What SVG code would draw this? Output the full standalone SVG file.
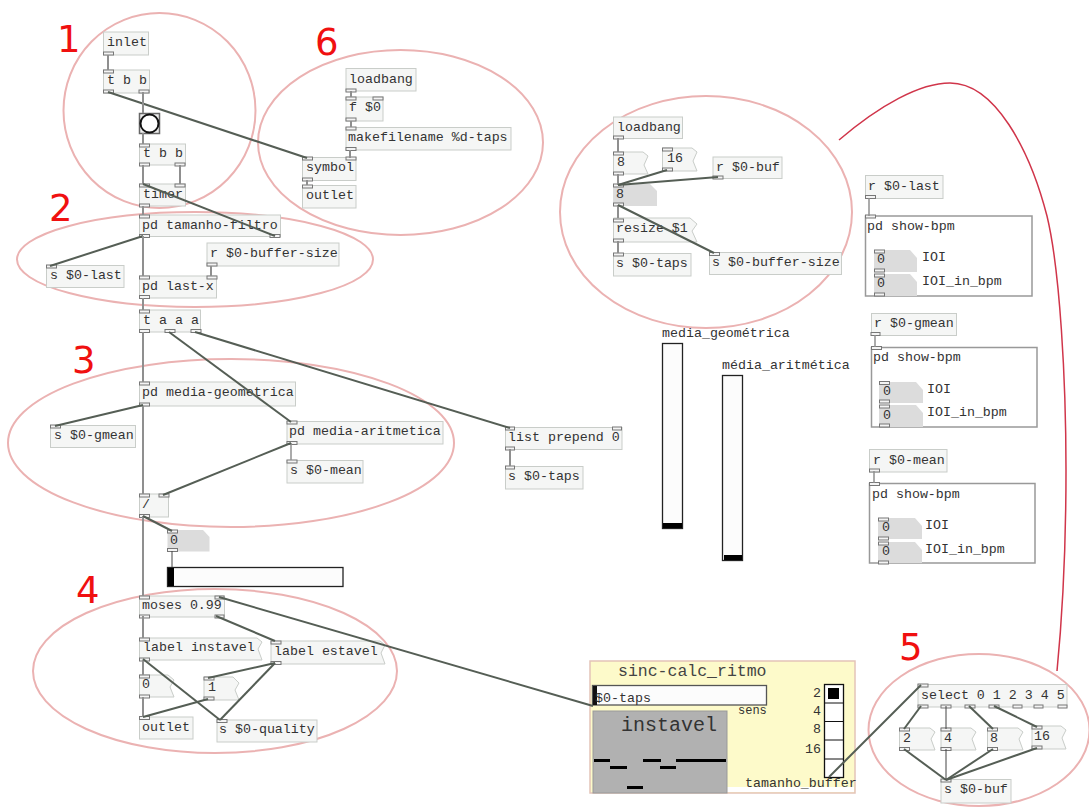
<svg xmlns="http://www.w3.org/2000/svg" width="1089" height="809" viewBox="0 0 1089 809">
<style>
text{font-family:"Liberation Mono","DejaVu Sans Mono",monospace;font-size:13.3px;fill:#333}
.big{font-family:"DejaVu Sans","Liberation Sans",sans-serif;font-size:37px;fill:#f01010}
.o{fill:#f5f6f5;stroke:#c9cdc9;stroke-width:1}
.m{fill:#f5f6f5;stroke:#c9cdc9;stroke-width:1}
.n{fill:#dcdcdc;stroke:none}
.g{fill:#fff;stroke:#999;stroke-width:1.5}
.s{fill:#fcfcfc;stroke:#222;stroke-width:1.300}
.p{fill:#f4f4f4;stroke:#777;stroke-width:1}
.e{fill:none;stroke:#ebb2b2;stroke-width:2}
.c line{stroke:#8f8f8f;stroke-width:2}
.c .d{stroke:#555e55;stroke-width:2}
.c .t{stroke:#444;stroke-width:1}
</style>
<rect width="1089" height="809" fill="#fff"/>
<g id="circles">
<ellipse class="e" cx="159.500" cy="110.500" rx="96" ry="97.500"/>
<ellipse class="e" cx="400.500" cy="142.500" rx="142.500" ry="92.500"/>
<ellipse class="e" cx="195" cy="259.500" rx="178" ry="47.500"/>
<ellipse class="e" cx="231" cy="443" rx="223" ry="84"/>
<ellipse class="e" cx="215" cy="671" rx="182" ry="82"/>
<ellipse class="e" cx="979" cy="730" rx="110.500" ry="76"/>
<ellipse class="e" cx="706" cy="212" rx="146" ry="116"/>
<path d="M839,140C880,105 920,83 950,83C995,83 1030,150 1047,216C1060,270 1066,380 1066,470C1066,560 1062,620 1057,671" fill="none" stroke="#d0354a" stroke-width="1.500"/>
</g>
<g id="numbers">
<text class="big" x="57" y="52">1</text>
<text class="big" x="315" y="55">6</text>
<text class="big" x="49" y="221">2</text>
<text class="big" x="72" y="373">3</text>
<text class="big" x="76" y="603">4</text>
<text class="big" x="899" y="660">5</text>
</g>
<g id="panel">
<rect x="590" y="661" width="265" height="132" fill="#fdfaca" stroke="#e3c4b8" stroke-width="1.500"/>
<rect x="727" y="787" width="127" height="5" fill="#fff"/>
<text x="618" y="676" style="font-size:16.500px;fill:#444">sinc-calc_ritmo</text>
<rect x="593" y="711" width="134" height="82" fill="#b1b1b1" stroke="#999"/>
<text x="621" y="731" style="font-size:20px;fill:#333">instavel</text>
<g fill="#000"><rect x="594" y="759" width="16" height="3"/><rect x="643" y="759" width="18" height="3"/><rect x="676" y="759" width="50" height="3"/><rect x="610" y="766" width="17" height="3"/><rect x="660" y="766" width="16" height="3"/><rect x="627" y="786" width="16" height="3"/></g>
<rect x="592.500" y="685.500" width="174" height="19.500" class="s" style="stroke:#555"/>
<rect x="593" y="686" width="4" height="19" fill="#111"/>
<text x="595" y="702">$0-taps</text>
<text x="738" y="714" style="font-size:12px;fill:#333">sens</text>
<rect x="824.500" y="684.500" width="19" height="93" fill="#fff" stroke="#111" stroke-width="1.300"/>
<path d="M824,703H843M824,721.500H843M824,740H843M824,759H843" stroke="#111" stroke-width="1"/>
<rect x="828" y="688" width="11" height="11" fill="#000"/>
<text x="813" y="697">2</text><text x="813" y="715">4</text><text x="813" y="733">8</text><text x="805" y="753">16</text>
<text x="745" y="787">tamanho_buffer</text>
</g>
<g id="inlet"><rect class="o" x="103.500" y="32" width="45" height="23"/><text x="107" y="46">inlet</text><rect class="p" x="103.500" y="52" width="10" height="3"/></g>
<g id="tbb1"><rect class="o" x="103.500" y="70" width="46" height="23"/><text x="107" y="84">t b b</text><rect class="p" x="103.500" y="70" width="10" height="3"/><rect class="p" x="103.500" y="90" width="10" height="3"/><rect class="p" x="139" y="90" width="10" height="3"/></g>
<g id="bang"><rect x="139.500" y="113.500" width="20" height="20" fill="#eee" stroke="#666" stroke-width="1.500"/><circle cx="149.500" cy="123.500" r="9" fill="#fff" stroke="#111" stroke-width="2"/></g>
<g id="tbb2"><rect class="o" x="139.500" y="144" width="46" height="21"/><text x="143" y="157">t b b</text><rect class="p" x="139.500" y="144" width="10" height="3"/><rect class="p" x="139.500" y="163" width="10" height="3"/><rect class="p" x="175" y="163" width="10" height="3"/></g>
<g id="timer"><rect class="o" x="139.500" y="184" width="46" height="22"/><text x="143" y="198">timer</text><rect class="p" x="139.500" y="184" width="10" height="3"/><rect class="p" x="175" y="184" width="10" height="3"/><rect class="p" x="139.500" y="204" width="10" height="3"/></g>
<g id="tamanho"><rect class="o" x="139.500" y="215" width="141" height="21.500"/><text x="142" y="229">pd tamanho-filtro</text><rect class="p" x="139.500" y="215" width="10" height="3"/><rect class="p" x="139.500" y="234.500" width="10" height="3"/><rect class="p" x="270" y="234.500" width="10" height="3"/></g>
<g id="bufsize"><rect class="o" x="207" y="243" width="132" height="23"/><text x="210" y="257">r $0-buffer-size</text><rect class="p" x="207" y="263" width="10" height="3"/></g>
<g id="last"><rect class="o" x="46.500" y="265.500" width="77.500" height="22"/><text x="50" y="279">s $0-last</text><rect class="p" x="46.500" y="265" width="10" height="3"/></g>
<g id="lastx"><rect class="o" x="139.500" y="276" width="77" height="22"/><text x="142" y="290">pd last-x</text><rect class="p" x="139.500" y="276" width="10" height="3"/><rect class="p" x="207" y="276" width="10" height="3"/><rect class="p" x="139.500" y="295.500" width="10" height="3"/></g>
<g id="taaa"><rect class="o" x="139.500" y="310" width="61" height="22"/><text x="143" y="324">t a a a</text><rect class="p" x="139.500" y="310" width="10" height="3"/><rect class="p" x="139.500" y="329.500" width="10" height="3"/><rect class="p" x="165" y="329.500" width="10" height="3"/><rect class="p" x="191" y="329.500" width="10" height="3"/></g>
<g id="geo"><rect class="o" x="139.500" y="382" width="156" height="24"/><text x="142" y="396">pd media-geometrica</text><rect class="p" x="139.500" y="382" width="10" height="3"/><rect class="p" x="139.500" y="403" width="10" height="3"/></g>
<g id="gmean"><rect class="o" x="50.500" y="425.500" width="85" height="22"/><text x="54" y="439">s $0-gmean</text><rect class="p" x="50.500" y="425" width="10" height="3"/></g>
<g id="arit"><rect class="o" x="287" y="421.500" width="156" height="22.500"/><text x="289" y="435">pd media-aritmetica</text><rect class="p" x="287" y="421" width="10" height="3"/><rect class="p" x="287" y="441.500" width="10" height="3"/></g>
<g id="mean"><rect class="o" x="287" y="460.500" width="76" height="22.500"/><text x="290" y="474">s $0-mean</text><rect class="p" x="287" y="460" width="10" height="3"/></g>
<g id="div"><rect class="o" x="139.500" y="494" width="29" height="23"/><text x="142" y="508">/</text><rect class="p" x="139.500" y="494" width="10" height="3"/><rect class="p" x="159" y="494" width="10" height="3"/><rect class="p" x="139.500" y="514.500" width="10" height="3"/></g>
<g id="num"><path class="n" d="M167.500,530H203L209.500,537V551.500H167.500Z"/><text x="170" y="544">0</text><rect class="p" x="167.500" y="530" width="10" height="3"/><rect class="p" x="167.500" y="548.500" width="10" height="3"/></g>
<g id="hsl"><rect class="s" x="167.500" y="567.500" width="175.500" height="19"/><rect x="168" y="568" width="6" height="18" fill="#000"/></g>
<g id="moses"><rect class="o" x="139.500" y="596" width="85" height="21"/><text x="142" y="609">moses 0.99</text><rect class="p" x="139.500" y="596" width="10" height="3"/><rect class="p" x="215" y="596" width="9" height="3"/><rect class="p" x="139.500" y="615" width="10" height="3"/><rect class="p" x="215" y="615" width="9" height="3"/></g>
<g id="lab1"><path class="m" d="M139.500,638H257L262,642L258,649L262,660H139.500Z"/><text x="143" y="651">label instavel</text><rect class="p" x="139.500" y="638" width="10" height="3"/><rect class="p" x="139.500" y="658" width="10" height="3"/></g>
<g id="lab2"><path class="m" d="M271,641H380L385,645L381,653L385,664H271Z"/><text x="274" y="655">label estavel</text><rect class="p" x="271" y="641" width="10" height="3"/><rect class="p" x="271" y="661.500" width="10" height="3"/></g>
<g id="m0"><path class="m" d="M139.500,675H168L174,680L170,687L174,697H139.500Z"/><text x="142" y="688">0</text><rect class="p" x="139.500" y="675" width="10" height="3"/><rect class="p" x="139.500" y="695" width="10" height="3"/></g>
<g id="m1"><path class="m" d="M204,677H233L239,683L235,690L239,700H204Z"/><text x="208" y="691">1</text><rect class="p" x="204" y="677" width="10" height="3"/><rect class="p" x="204" y="697" width="10" height="3"/></g>
<g id="out1"><rect class="o" x="139.500" y="717" width="53.500" height="22"/><text x="142" y="731">outlet</text><rect class="p" x="139.500" y="716.500" width="10" height="3"/></g>
<g id="quality"><rect class="o" x="217" y="720" width="100" height="22"/><text x="219" y="733">s $0-quality</text><rect class="p" x="217" y="719.500" width="10" height="3"/></g>
<g id="lb6"><rect class="o" x="346" y="68.500" width="70" height="22.500"/><text x="349" y="83">loadbang</text><rect class="p" x="346" y="89" width="10" height="3"/></g>
<g id="f0"><rect class="o" x="346" y="97" width="37" height="24"/><text x="349" y="111">f $0</text><rect class="p" x="346" y="97" width="10" height="3"/><rect class="p" x="373" y="97" width="10" height="3"/><rect class="p" x="346" y="118" width="10" height="3"/></g>
<g id="mk"><rect class="o" x="346" y="127.500" width="165" height="22.500"/><text x="348" y="141">makefilename %d-taps</text><rect class="p" x="346" y="127" width="10" height="3"/><rect class="p" x="346" y="147.500" width="10" height="3"/></g>
<g id="sym"><rect class="o" x="302.500" y="157.500" width="53.500" height="23"/><text x="306" y="171">symbol</text><rect class="p" x="302.500" y="157" width="10" height="3"/><rect class="p" x="346" y="157" width="10" height="3"/><rect class="p" x="302.500" y="178" width="10" height="3"/></g>
<g id="out6"><rect class="o" x="302.500" y="185.500" width="53.500" height="22.500"/><text x="306" y="199">outlet</text><rect class="p" x="302.500" y="185" width="10" height="3"/></g>
<g id="lb"><rect class="o" x="613.500" y="117" width="69" height="21.500"/><text x="617" y="131">loadbang</text><rect class="p" x="613.500" y="136" width="10" height="3"/></g>
<g id="m8"><path class="m" d="M613.500,152H643L648,156L644,165L648,174H613.500Z"/><text x="617" y="166">8</text><rect class="p" x="613.500" y="152" width="10" height="3"/><rect class="p" x="613.500" y="172" width="10" height="3"/></g>
<g id="m16"><path class="m" d="M662.500,148H692L697,152L693,161L697,171H662.500Z"/><text x="667" y="162">16</text><rect class="p" x="662.500" y="148" width="10" height="3"/><rect class="p" x="662.500" y="168" width="10" height="3"/></g>
<g id="rbuf"><rect class="o" x="713" y="157" width="69" height="21.500"/><text x="716" y="171">r $0-buf</text><rect class="p" x="713" y="176" width="10" height="3"/></g>
<g id="n8"><path class="n" d="M613,184H650L657,191V206H613Z"/><text x="616" y="198">8</text><rect class="p" x="613.500" y="184" width="10" height="3"/><rect class="p" x="613.500" y="203" width="10" height="3"/></g>
<g id="resize"><path class="m" d="M613.500,218H690L697,224L692,231L697,242H613.500Z"/><text x="616" y="232">resize $1</text><rect class="p" x="613.500" y="219" width="10" height="3"/><rect class="p" x="613.500" y="239" width="10" height="3"/></g>
<g id="taps"><rect class="o" x="613.500" y="253.500" width="77.500" height="22.500"/><text x="616" y="267">s $0-taps</text><rect class="p" x="613.500" y="253" width="10" height="3"/></g>
<g id="sbuf"><rect class="o" x="709.500" y="252.500" width="132" height="22"/><text x="712" y="266">s $0-buffer-size</text><rect class="p" x="709.500" y="252.500" width="10" height="3"/></g>
<g id="rlast"><rect class="o" x="865.500" y="175.500" width="77.500" height="23"/><text x="868" y="190">r $0-last</text><rect class="p" x="865.500" y="195.500" width="10" height="3"/></g>
<g id="show1"><rect class="g" x="865.500" y="216" width="166.500" height="80"/><text x="867" y="230">pd show-bpm</text><rect class="p" x="865.500" y="215" width="10" height="3"/><path class="n" d="M874,250H910L917,258V272H874Z"/><path class="n" d="M874,274H910L917,282V296H874Z"/><text x="877" y="263">0</text><text x="877" y="287">0</text><rect class="p" x="874.500" y="250" width="10" height="3"/><rect class="p" x="874.500" y="269" width="10" height="3"/><rect class="p" x="874.500" y="274" width="10" height="3"/><rect class="p" x="874.500" y="293" width="10" height="3"/><text x="922" y="261">IOI</text><text x="922" y="285">IOI_in_bpm</text></g>
<g id="rg"><rect class="o" x="871.500" y="313.500" width="85" height="22"/><text x="874" y="327">r $0-gmean</text><rect class="p" x="871" y="332.500" width="9" height="3"/></g>
<g id="show2"><rect class="g" x="871.500" y="347.500" width="165.500" height="79.500"/><text x="873" y="361">pd show-bpm</text><rect class="p" x="871.500" y="346.500" width="10" height="3"/><path class="n" d="M879,382H916L923,390V403H879Z"/><path class="n" d="M879,405H916L923,413V427H879Z"/><text x="883" y="395">0</text><text x="883" y="419">0</text><rect class="p" x="879.500" y="381.500" width="10" height="3"/><rect class="p" x="879.500" y="400" width="10" height="3"/><rect class="p" x="879.500" y="405" width="10" height="3"/><rect class="p" x="879.500" y="424" width="10" height="3"/><text x="927" y="393">IOI</text><text x="927" y="416">IOI_in_bpm</text></g>
<g id="rm"><rect class="o" x="869.500" y="449.500" width="77.500" height="22.500"/><text x="873" y="464">r $0-mean</text><rect class="p" x="869.500" y="469" width="10" height="3"/></g>
<g id="show3"><rect class="g" x="869.500" y="483.500" width="165.500" height="79.500"/><text x="872" y="498">pd show-bpm</text><rect class="p" x="869.500" y="482.500" width="10" height="3"/><path class="n" d="M878,518H915L922,526V539H878Z"/><path class="n" d="M878,542H915L922,550V563H878Z"/><text x="882" y="531">0</text><text x="882" y="555">0</text><rect class="p" x="878.500" y="518" width="10" height="3"/><rect class="p" x="878.500" y="537" width="10" height="3"/><rect class="p" x="878.500" y="542" width="10" height="3"/><rect class="p" x="878.500" y="561" width="10" height="3"/><text x="925" y="529">IOI</text><text x="925" y="553">IOI_in_bpm</text></g>
<g id="list"><rect class="o" x="505.500" y="427.500" width="116.500" height="22"/><text x="508" y="441">list prepend 0</text><rect class="p" x="505.500" y="427" width="9" height="3"/><rect class="p" x="612.500" y="427" width="9" height="3"/><rect class="p" x="505.500" y="447" width="9" height="3"/></g>
<g id="staps"><rect class="o" x="505.500" y="466.500" width="77.500" height="22.500"/><text x="508" y="480">s $0-taps</text><rect class="p" x="505.500" y="466" width="9" height="3"/></g>
<g id="vs1"><text x="662" y="337">media_geométrica</text><rect class="s" x="662.500" y="343.500" width="20" height="185"/><rect x="663" y="523" width="19" height="5" fill="#000"/></g>
<g id="vs2"><text x="722" y="369">média_aritmética</text><rect class="s" x="722.500" y="375.500" width="20" height="185"/><rect x="724" y="555" width="18" height="5" fill="#000"/></g>
<g id="sel"><rect class="o" x="918" y="684.500" width="149" height="22.500"/><text x="921" y="699">select 0 1 2 3 4 5</text><rect class="p" x="918" y="684" width="10" height="3"/><rect class="p" x="918" y="705" width="10" height="3"/><rect class="p" x="941" y="705" width="10" height="3"/><rect class="p" x="965" y="705" width="10" height="3"/><rect class="p" x="989" y="705" width="10" height="3"/><rect class="p" x="1013" y="705" width="9" height="3"/><rect class="p" x="1034" y="705" width="9" height="3"/><rect class="p" x="1058" y="705" width="9" height="3"/></g>
<g id="s2"><path class="m" d="M899.500,728H930L935,732L931,739L935,750H899.500Z"/><text x="903" y="742">2</text><rect class="p" x="899.500" y="728" width="10" height="3"/><rect class="p" x="899.500" y="747.500" width="10" height="3"/></g>
<g id="s4"><path class="m" d="M941,728H971L976,732L972,739L976,750H941Z"/><text x="944" y="742">4</text><rect class="p" x="941" y="728" width="10" height="3"/><rect class="p" x="941" y="747.500" width="10" height="3"/></g>
<g id="s8"><path class="m" d="M987.500,728H1018L1023,732L1019,739L1023,750H987.500Z"/><text x="990" y="742">8</text><rect class="p" x="987.500" y="728" width="10" height="3"/><rect class="p" x="987.500" y="747.500" width="10" height="3"/></g>
<g id="s16"><path class="m" d="M1032,726H1061L1066,730L1062,738L1066,749H1032Z"/><text x="1034" y="740">16</text><rect class="p" x="1032" y="726" width="10" height="3"/><rect class="p" x="1032" y="746" width="10" height="3"/></g>
<g id="sb"><rect class="o" x="941" y="779.500" width="70" height="23.500"/><text x="944" y="793">s $0-buf</text><rect class="p" x="941" y="779" width="10" height="3"/></g>
<g id="connectors" class="c">
<line x1="108" y1="55" x2="108" y2="70"/>
<line class="d" x1="108" y1="92" x2="307" y2="158"/>
<line x1="143" y1="92" x2="143" y2="113"/>
<line x1="143" y1="133" x2="143" y2="144"/>
<line x1="143" y1="165" x2="143" y2="184"/>
<line x1="180" y1="165" x2="180" y2="184"/>
<line class="d" x1="143" y1="184" x2="275" y2="236"/>
<line x1="143" y1="206" x2="143" y2="215"/>
<line class="d" x1="143" y1="236" x2="50" y2="266"/>
<line x1="143" y1="236" x2="143" y2="276"/>
<line x1="211" y1="266" x2="211" y2="276"/>
<line x1="143" y1="298" x2="143" y2="310"/>
<line x1="143" y1="332" x2="143" y2="382"/>
<line x1="143" y1="406" x2="143" y2="494"/>
<line class="d" x1="143" y1="405" x2="55" y2="426"/>
<line class="d" x1="169" y1="332" x2="291" y2="422"/>
<line class="d" x1="195" y1="332" x2="510" y2="428"/>
<line x1="291" y1="443" x2="291" y2="460" style="stroke-width:1.500"/>
<line class="d" x1="291" y1="443" x2="163" y2="495"/>
<line x1="143" y1="516" x2="143" y2="596"/>
<line class="d" x1="143" y1="516" x2="172" y2="531"/>
<line class="t" x1="172" y1="551" x2="172" y2="567"/>
<line x1="143" y1="616" x2="143" y2="638"/>
<line class="d" x1="219" y1="597" x2="593" y2="706"/>
<line class="d" x1="216" y1="616" x2="275" y2="641"/>
<line x1="143" y1="660" x2="143" y2="675"/>
<line x1="143" y1="697" x2="143" y2="717"/>
<line class="d" x1="143" y1="659" x2="220" y2="720"/>
<line class="d" x1="275" y1="663" x2="208" y2="678"/>
<line class="d" x1="275" y1="663" x2="220" y2="720"/>
<line class="d" x1="208" y1="699" x2="143" y2="717"/>
<line x1="351" y1="91" x2="351" y2="97"/>
<line x1="351" y1="121" x2="351" y2="127"/>
<line x1="350" y1="150" x2="350" y2="158"/>
<line x1="307" y1="180" x2="307" y2="185"/>
<line x1="618" y1="138" x2="618" y2="152"/>
<line x1="618" y1="174" x2="618" y2="185"/>
<line class="d" x1="618" y1="185" x2="667" y2="170"/>
<line class="d" x1="618" y1="185" x2="718" y2="177"/>
<line x1="618" y1="205" x2="618" y2="218"/>
<line class="d" x1="618" y1="205" x2="714" y2="253"/>
<line x1="618" y1="241" x2="618" y2="253"/>
<line x1="510" y1="449" x2="510" y2="466"/>
<line x1="869" y1="198" x2="869" y2="216" style="stroke-width:1.500"/>
<line x1="875" y1="335" x2="875" y2="347" style="stroke-width:1.500"/>
<line x1="874" y1="471" x2="874" y2="483" style="stroke-width:1.500"/>
<line class="d" x1="921" y1="685" x2="829" y2="777"/>
<line class="d" x1="921" y1="706" x2="904" y2="729"/>
<line class="t" x1="946" y1="706" x2="946" y2="729"/>
<line class="d" x1="969" y1="706" x2="993" y2="729"/>
<line class="d" x1="994" y1="706" x2="1037" y2="727"/>
<line class="d" x1="904" y1="749" x2="946" y2="780"/>
<line class="t" x1="946" y1="749" x2="946" y2="780"/>
<line class="d" x1="993" y1="749" x2="946" y2="780"/>
<line class="d" x1="1037" y1="748" x2="946" y2="780"/>
</g>
</svg>
